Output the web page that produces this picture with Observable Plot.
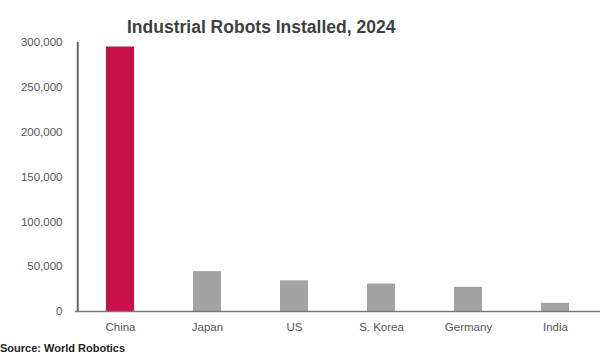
<!DOCTYPE html>
<html>
<head>
<meta charset="utf-8">
<script src="https://cdn.jsdelivr.net/npm/d3@7"></script>
<script src="https://cdn.jsdelivr.net/npm/@observablehq/plot@0.6"></script>
<style>
  body { margin: 0; background: #fff; font-family: "Liberation Sans", Arial, sans-serif; }
  #wrap { position: relative; width: 600px; height: 360px; overflow: hidden; background: #fff; }
  #title { position: absolute; top: 17px; left: 127px; font-size: 17.5px; font-weight: bold; color: #404040; white-space: nowrap; z-index: 2; line-height: 20px; }
  #chart { position: absolute; top: 30px; left: 0; z-index: 1; }
  #source { position: absolute; top: 342px; left: 0; font-size: 11px; font-weight: bold; color: #222; white-space: nowrap; z-index: 2; }
</style>
</head>
<body>
<div id="wrap">
  <div id="chart"></div>
  <div id="title">Industrial Robots Installed, 2024</div>
  <div id="source">Source: World Robotics</div>
</div>
<script>
const countries = ["China", "Japan", "US", "S. Korea", "Germany", "India"];
const installs = [295000, 44500, 34200, 30600, 27000, 9100];
const yTicks = [0, 50000, 100000, 150000, 200000, 250000, 300000];

const data = countries.map((c, i) => ({country: c, value: installs[i]}));

const W = 600, ML = 75, MR = 0;
const step = (W - ML - MR) / countries.length;

const chart = Plot.plot({
  width: W,
  height: 312,
  marginTop: 12,
  marginBottom: 31,
  marginLeft: ML,
  marginRight: MR,
  style: {fontFamily: "Liberation Sans, Arial, sans-serif", fontSize: "11.5px", color: "#555", background: "transparent"},
  x: {domain: countries, paddingInner: 0.68, paddingOuter: 0.34, label: null, tickSize: 0, tickPadding: 11},
  y: {domain: [0, 300000], ticks: yTicks, tickFormat: d3.format(","), label: null, tickSize: 0, tickPadding: 13},
  marks: [
    Plot.barY(data, {x: "country", y: "value", fill: d => d.country === "China" ? "#C8104A" : "#A3A3A3"}),
    // y-axis domain line at the left edge of the first band
    Plot.ruleX([countries[0]], {x: d => d, y1: 0, y2: yTicks[yTicks.length - 1], dx: -step / 2 + 1, stroke: "#666", strokeWidth: 2}),
    Plot.ruleY([0], {stroke: "#777", strokeWidth: 1.5}),
    Plot.axisX({tickSize: 0, tickPadding: 11, fill: "#555"}),
    Plot.axisY({ticks: yTicks, tickFormat: d3.format(","), tickSize: 0, tickPadding: 13, fill: "#555"})
  ]
});
document.getElementById("chart").appendChild(chart);
</script>
</body>
</html>
